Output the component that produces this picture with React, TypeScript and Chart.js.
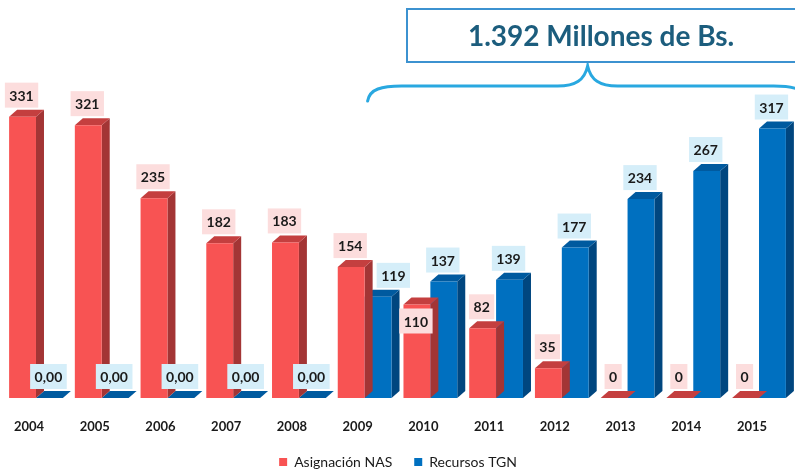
import React, { useEffect, useRef } from "react";
import { Chart, registerables } from "chart.js";

Chart.register(...registerables);

// ---- data ----
const years = ["2004", "2005", "2006", "2007", "2008", "2009", "2010", "2011", "2012", "2013", "2014", "2015"];
const asignacionNAS = [331, 321, 235, 182, 183, 154, 110, 82, 35, 0, 0, 0];
const recursosTGN = [0, 0, 0, 0, 0, 119, 137, 139, 177, 234, 267, 317];
const nasLabels = ["331", "321", "235", "182", "183", "154", "110", "82", "35", "0", "0", "0"];
const tgnLabels = ["0,00", "0,00", "0,00", "0,00", "0,00", "119", "137", "139", "177", "234", "267", "317"];
const seriesNames = ["Asignación NAS", "Recursos TGN"];
const totalText = "1.392 Millones de Bs.";
const bracketStartIndex = 5; // brace spans 2009..2015

// ---- style ----
const FONT = "Lato, 'Open Sans', 'DejaVu Sans', sans-serif";
const DX = 8;
const DY = 7;
const frontColors = ["#F85353", "#0070C0"];
const sideColors = ["#A33535", "#00467F"];
const topColors = ["#C43F3F", "#005A9F"];
const labelBg = ["#FCDDDD", "#D5EEF9"];

const bars3d = {
  id: "bars3d",
  beforeDatasetDraw(chart: any, args: any) {
    const ctx = chart.ctx;
    const meta = chart.getDatasetMeta(args.index);
    ctx.save();
    meta.data.forEach((bar: any) => {
      const p = bar.getProps(["x", "y", "base", "width"], true);
      const l = p.x - p.width / 2;
      const r = p.x + p.width / 2;
      ctx.fillStyle = sideColors[args.index];
      ctx.beginPath();
      ctx.moveTo(r, p.y);
      ctx.lineTo(r + DX, p.y - DY);
      ctx.lineTo(r + DX, p.base - DY);
      ctx.lineTo(r, p.base);
      ctx.closePath();
      ctx.fill();
      ctx.fillStyle = topColors[args.index];
      ctx.beginPath();
      ctx.moveTo(l, p.y);
      ctx.lineTo(l + DX, p.y - DY);
      ctx.lineTo(r + DX, p.y - DY);
      ctx.lineTo(r, p.y);
      ctx.closePath();
      ctx.fill();
    });
    ctx.restore();
  },
};

const valueLabels = {
  id: "valueLabels",
  afterDatasetsDraw(chart: any) {
    const ctx = chart.ctx;
    ctx.save();
    ctx.font = "bold 14px " + FONT;
    ctx.textAlign = "center";
    ctx.textBaseline = "middle";
    const texts = [nasLabels, tgnLabels];
    const values = [asignacionNAS, recursosTGN];
    const metas = [chart.getDatasetMeta(0), chart.getDatasetMeta(1)];
    for (let d = 0; d < 2; d++) {
      metas[d].data.forEach((bar: any, i: number) => {
        const p = bar.getProps(["x", "y", "base", "width"], true);
        const t = texts[d][i];
        const w = ctx.measureText(t).width + 9;
        const h = 25;
        let cx = p.x - 1;
        let bottom = p.y - DY - 2;
        const other = metas[1 - d].data[i].getProps(["x", "y", "width"], true);
        if (d === 0) {
          const blueLeft = other.x - other.width / 2;
          if (other.y < bottom && cx + w / 2 > blueLeft + 1) {
            bottom = p.y + 4 + h;
          }
        } else if (values[d][i] > 0) {
          const redRight = other.x + other.width / 2 + DX;
          if (cx - w / 2 < redRight && bottom > other.y - DY) {
            cx = redRight + 4 + w / 2;
          }
        }
        ctx.fillStyle = labelBg[d];
        ctx.fillRect(cx - w / 2, bottom - h, w, h);
        ctx.fillStyle = "#1A1A1A";
        ctx.fillText(t, cx, bottom - h / 2 + 1);
      });
    }
    ctx.restore();
  },
};

const totalAnnotation = {
  id: "totalAnnotation",
  afterDraw(chart: any) {
    const ctx = chart.ctx;
    const xs = chart.scales.x;
    const left = xs.getPixelForValue(bracketStartIndex) + 3;
    const peak = left + 220;
    const right = peak + (peak - left);
    const yEnd = 101;
    const yLine = 86;
    const yPeak = 66;
    ctx.save();
    ctx.strokeStyle = "#29A8E0";
    ctx.lineWidth = 3;
    ctx.lineCap = "round";
    ctx.beginPath();
    ctx.moveTo(left, yEnd);
    ctx.bezierCurveTo(left + 2, yLine + 3, left + 14, yLine, left + 34, yLine);
    ctx.lineTo(peak - 30, yLine);
    ctx.bezierCurveTo(peak - 12, yLine, peak - 3, yLine - 6, peak, yPeak);
    ctx.bezierCurveTo(peak + 3, yLine - 6, peak + 12, yLine, peak + 30, yLine);
    ctx.lineTo(right - 34, yLine);
    ctx.bezierCurveTo(right - 14, yLine, right - 2, yLine + 3, right, yEnd);
    ctx.stroke();

    // title box
    const bx = 407;
    const by = 9;
    const bw = chart.width - bx + 2;
    const bh = 53;
    ctx.fillStyle = "#FFFFFF";
    ctx.fillRect(bx, by, bw, bh);
    ctx.strokeStyle = "#3C92D0";
    ctx.lineWidth = 2;
    ctx.strokeRect(bx, by, bw, bh);
    ctx.fillStyle = "#1C5D7D";
    ctx.font = "bold 28px " + FONT;
    ctx.textAlign = "center";
    ctx.textBaseline = "middle";
    ctx.fillText(totalText, 601, by + bh / 2 + 1);
    ctx.restore();
  },
};

export default function App() {
  const ref = useRef<HTMLCanvasElement | null>(null);
  useEffect(() => {
    document.body.style.margin = "0";
    const canvas = ref.current;
    if (!canvas) return;
    const chart = new Chart(canvas, {
      type: "bar",
      data: {
        labels: years,
        datasets: [
          { label: seriesNames[0], data: asignacionNAS, backgroundColor: frontColors[0], borderWidth: 0 },
          { label: seriesNames[1], data: recursosTGN, backgroundColor: frontColors[1], borderWidth: 0 },
        ],
      },
      options: {
        animation: false,
        responsive: false,
        maintainAspectRatio: false,
        devicePixelRatio: 1,
        layout: { padding: { left: 1, right: 0, top: 75, bottom: -8 } },
        datasets: { bar: { categoryPercentage: 54 / 66, barPercentage: 1 } },
        scales: {
          x: {
            grid: { display: false, drawTicks: false },
            border: { display: false },
            ticks: { font: { family: FONT, size: 13, weight: "bold" }, color: "#1A1A1A", padding: 21, labelOffset: -7, maxRotation: 0, autoSkip: false },
            afterFit: (scale: any) => {
              scale.height = 35;
            },
          },
          y: { display: false, min: 0, max: 380 },
        },
        plugins: {
          legend: {
            position: "bottom",
            labels: { font: { family: FONT, size: 14 }, color: "#1A1A1A", boxWidth: 8, boxHeight: 8, padding: 22 },
          },
          tooltip: { enabled: false },
          title: { display: false },
        },
      },
      plugins: [bars3d, valueLabels, totalAnnotation],
    } as any);
    return () => chart.destroy();
  }, []);
  return (
    <div style={{ width: 795, height: 471 }}>
      <canvas ref={ref} width={795} height={471} style={{ width: 795, height: 471, display: "block" }} />
    </div>
  );
}
